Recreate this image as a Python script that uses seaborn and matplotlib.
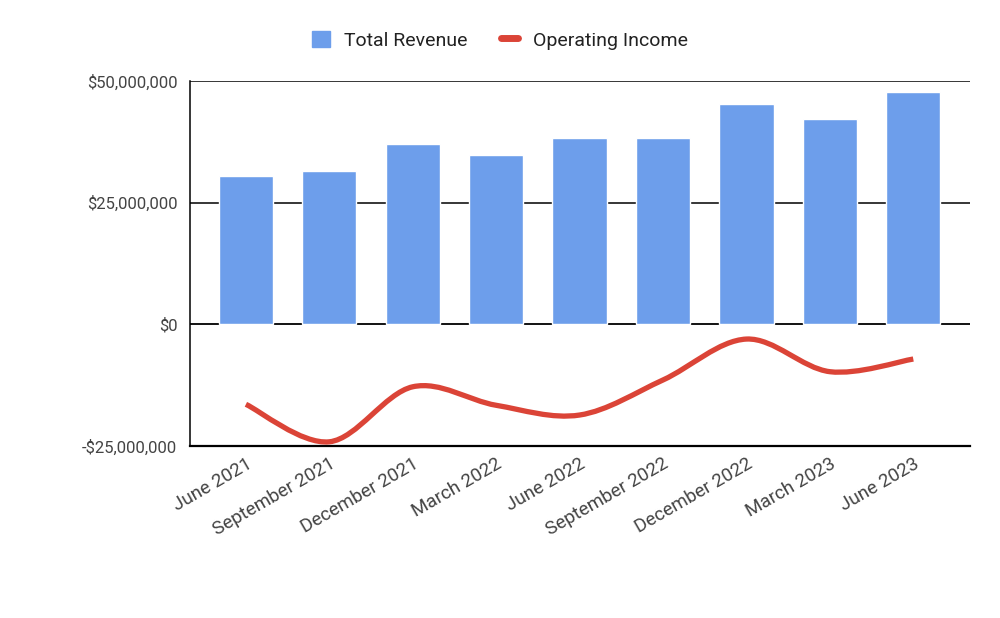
import numpy as np
import pandas as pd
import matplotlib
matplotlib.use("Agg")
import matplotlib.pyplot as plt
import seaborn as sns
from matplotlib.path import Path
from matplotlib.patches import PathPatch, Patch
from matplotlib.lines import Line2D
from matplotlib.ticker import FuncFormatter

# values
quarters = ["June 2021", "September 2021", "December 2021", "March 2022", "June 2022",
            "September 2022", "December 2022", "March 2023", "June 2023"]
total_revenue = [30.5e6, 31.6e6, 37.1e6, 34.7e6, 38.3e6, 38.3e6, 45.3e6, 42.2e6, 47.7e6]
operating_income = [-16.4e6, -24.1e6, -12.8e6, -16.6e6, -18.6e6, -11.4e6, -3.0e6, -9.7e6, -7.1e6]
y_ticks = [-25e6, 0, 25e6, 50e6]

BLUE = "#6d9eeb"
RED = "#db4437"

sns.set_theme(style="white")
plt.rcParams["font.family"] = ["Roboto", "DejaVu Sans"]

df = pd.DataFrame({"quarter": quarters, "revenue": total_revenue, "income": operating_income})

fig = plt.figure(figsize=(10, 6.18), dpi=100)
ax = fig.add_axes([0.19, 0.278, 0.78, 0.591])

sns.barplot(data=df, x="quarter", y="revenue", color=BLUE, saturation=1,
            width=0.65, ax=ax, zorder=3)


def smooth_path(xs, ys, t=1 / 6):
    """Bezier path through the points (like the 'function' curve type)"""
    pts = np.column_stack([xs, ys])
    n = len(pts)
    verts = [pts[0]]
    codes = [Path.MOVETO]
    for i in range(n - 1):
        p0 = pts[i - 1] if i > 0 else pts[i]
        p1, p2 = pts[i], pts[i + 1]
        p3 = pts[i + 2] if i + 2 < n else pts[i + 1]
        verts += [p1 + (p2 - p0) * t, p2 - (p3 - p1) * t, p2]
        codes += [Path.CURVE4] * 3
    return Path(verts, codes)


xs = np.arange(len(quarters), dtype=float)
ax.add_patch(PathPatch(smooth_path(xs, np.array(operating_income)), facecolor="none",
                       edgecolor=RED, lw=3.8, capstyle="butt", zorder=4))

ax.set_xlim(-0.67, len(quarters) - 1 + 0.68)
ax.set_ylim(-25e6, 50e6)
ax.set_yticks(y_ticks)
ax.yaxis.set_major_formatter(FuncFormatter(
    lambda v, p: f"-${abs(v):,.0f}" if v < 0 else f"${v:,.0f}"))
for y in y_ticks[1:]:
    ax.axhline(y, color="black", lw=1.3 if y == 0 else 1.1, zorder=2)

ax.set_xlabel("")
ax.set_ylabel("")
ax.tick_params(axis="both", length=0, labelcolor="#444444")
ax.tick_params(axis="y", pad=9, labelsize=12)
ax.tick_params(axis="x", pad=6, labelsize=13.5)
plt.setp(ax.get_xticklabels(), rotation=30, ha="right", rotation_mode="anchor")

for side in ["top", "right"]:
    ax.spines[side].set_visible(False)
ax.spines["left"].set_color("black")
ax.spines["left"].set_linewidth(1.1)
ax.spines["bottom"].set_color("black")
ax.spines["bottom"].set_linewidth(1.6)

handles = [Patch(facecolor=BLUE, edgecolor=BLUE),
           Line2D([0], [0], color=RED, lw=5)]
fig.legend(handles, ["Total Revenue", "Operating Income"], loc="center",
           bbox_to_anchor=(0.5, 0.935), ncol=2, frameon=False, fontsize=14,
           handlelength=0.9, handleheight=0.9, handletextpad=0.75, columnspacing=1.7,
           labelcolor="#222222")

fig.savefig("out.png", dpi=100)
